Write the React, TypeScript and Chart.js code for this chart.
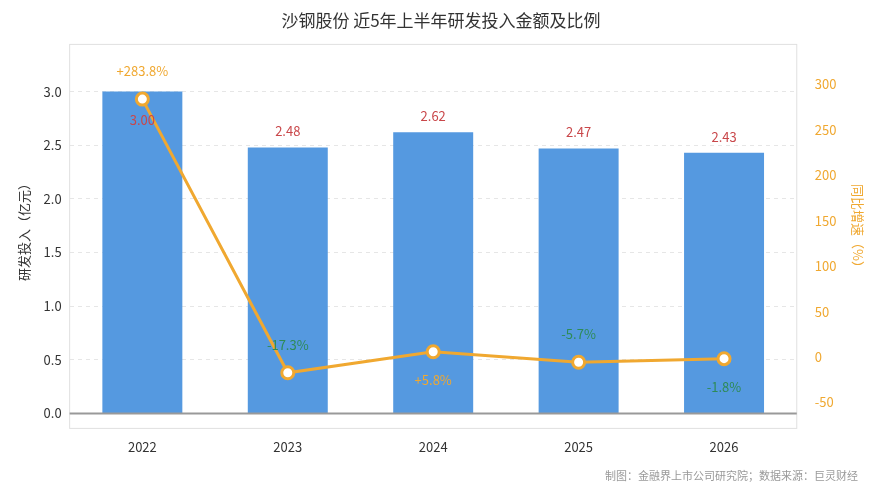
import React, { useEffect, useRef } from "react";
import { Chart, registerables } from "chart.js";
Chart.register(...registerables);

const years = ["2022", "2023", "2024", "2025", "2026"];
const invest = [3.0, 2.48, 2.62, 2.47, 2.43];
const growth = [283.8, -17.3, 5.8, -5.7, -1.8];
const growthLabels = ["+283.8%", "-17.3%", "+5.8%", "-5.7%", "-1.8%"];
const growthAbove = [true, true, false, true, false];

const FONT = "'Noto Sans CJK SC', 'Noto Sans', sans-serif";

export default function App() {
  const ref = useRef<HTMLCanvasElement>(null);
  useEffect(() => {
    document.body.style.margin = "0";
    const labelPlugin = {
      id: "lbl",
      beforeDatasetsDraw(c: any) {
        const { ctx, chartArea: a } = c;
        ctx.save();
        ctx.strokeStyle = "#e0e0e0";
        ctx.lineWidth = 1;
        ctx.strokeRect(a.left, a.top, a.right - a.left, a.bottom - a.top + 15);
        ctx.restore();
      },
      afterDatasetsDraw(c: any) {
        const { ctx, chartArea: a } = c;
        ctx.save();
        const y0 = c.scales.y.getPixelForValue(0);
        ctx.strokeStyle = "#999";
        ctx.lineWidth = 2;
        ctx.beginPath();
        ctx.moveTo(a.left, y0);
        ctx.lineTo(a.right, y0);
        ctx.stroke();
        ctx.font = `13px ${FONT}`;
        ctx.textAlign = "center";
        ctx.textBaseline = "middle";
        const bars = c.getDatasetMeta(0).data;
        bars.forEach((b: any, i: number) => {
          ctx.fillStyle = "#c9474a";
          const y = b.y - 16 < a.top + 40 ? b.y + 28 : b.y - 16;
          ctx.fillText(invest[i].toFixed(2), b.x, y);
        });
        const pts = c.getDatasetMeta(1).data;
        pts.forEach((p: any, i: number) => {
          ctx.fillStyle = growth[i] >= 0 ? "#f0a830" : "#2e8b57";
          ctx.fillText(growthLabels[i], p.x, p.y + (growthAbove[i] ? -28 : 28));
        });
        ctx.font = `11px ${FONT}`;
        ctx.fillStyle = "#999";
        ctx.textAlign = "right";
        ctx.fillText("制图：金融界上市公司研究院；数据来源：巨灵财经", 858, 476);
        ctx.restore();
      },
    };
    const ch = new Chart(ref.current!, {
      data: {
        labels: years,
        datasets: [
          {
            type: "bar",
            data: invest,
            backgroundColor: "#5599e0",
            barPercentage: 0.55,
            categoryPercentage: 1,
            yAxisID: "y",
            order: 2,
          },
          {
            type: "line",
            data: growth,
            borderColor: "#f0a830",
            borderWidth: 3,
            pointBackgroundColor: "#fff",
            pointBorderColor: "#f0a830",
            pointBorderWidth: 3,
            pointRadius: 6,
            yAxisID: "y1",
            order: 1,
          },
        ] as any,
      },
      options: {
        animation: false,
        responsive: false,
        layout: { padding: { top: 0, bottom: 21, left: 12, right: 0 } },
        plugins: {
          legend: { display: false },
          tooltip: { enabled: false },
          title: {
            display: true,
            text: "沙钢股份 近5年上半年研发投入金额及比例",
            font: { size: 17, family: FONT, weight: "normal" },
            color: "#333",
            padding: { top: 10, bottom: 14 },
          },
        },
        scales: {
          x: {
            grid: { display: false },
            border: { display: false },
            ticks: { font: { size: 13, family: FONT }, color: "#333", padding: 18 },
          },
          y: {
            min: 0,
            max: 3.44,
            position: "left",
            afterBuildTicks: (s: any) => {
              s.ticks = [0, 0.5, 1, 1.5, 2, 2.5, 3].map((v) => ({ value: v }));
            },
            ticks: { font: { size: 13, family: FONT }, color: "#333", padding: 8, callback: (v: any) => Number(v).toFixed(1) },
            grid: {
              color: (c: any) => (c.tick && c.tick.value === 0 ? "rgba(0,0,0,0)" : "#e6e6e6"),
              drawTicks: false,
            } as any,
            border: { display: false, dash: [4, 4] } as any,
            title: { display: true, text: "研发投入（亿元）", font: { size: 13, family: FONT }, color: "#333" },
          },
          y1: {
            min: -62,
            max: 344,
            position: "right",
            afterBuildTicks: (s: any) => {
              s.ticks = [-50, 0, 50, 100, 150, 200, 250, 300].map((v) => ({ value: v }));
            },
            ticks: { font: { size: 13, family: FONT }, color: "#f0a830", padding: 10 },
            grid: { display: false },
            border: { display: false },
            title: { display: true, text: "同比增速（%）", font: { size: 13, family: FONT }, color: "#f0a830" },
          },
        },
      },
      plugins: [labelPlugin],
    });
    return () => ch.destroy();
  }, []);
  return <canvas ref={ref} width={870} height={494} style={{ display: "block" }} />;
}
